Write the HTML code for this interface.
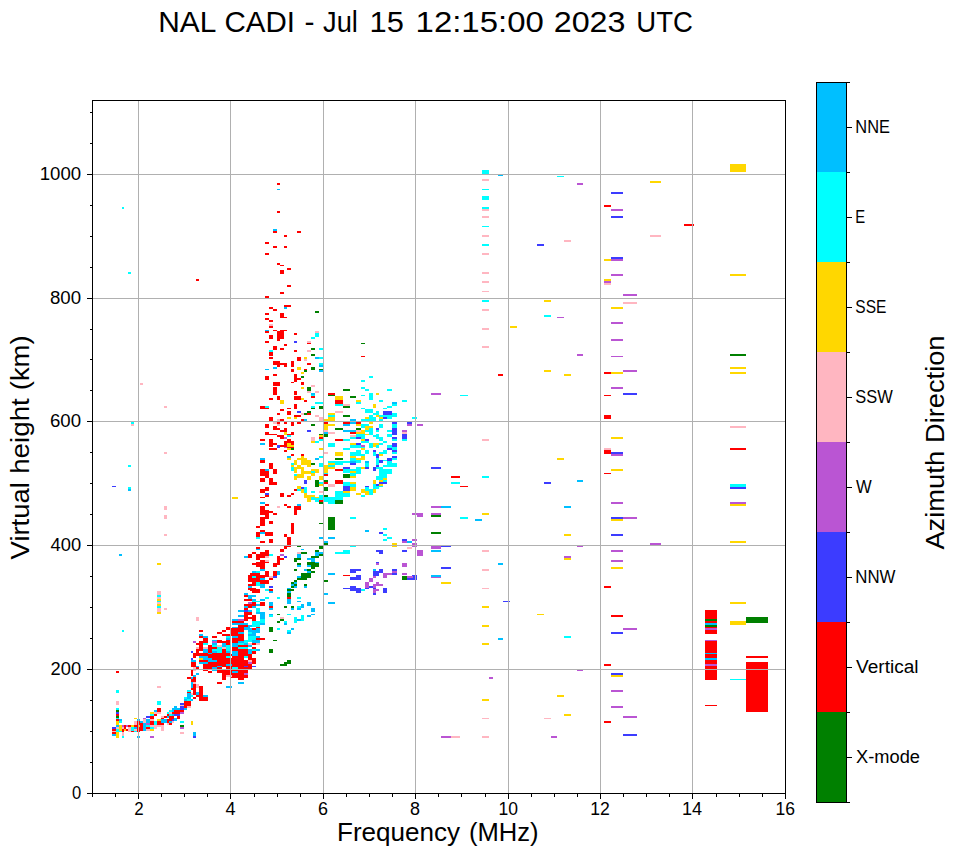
<!DOCTYPE html>
<html><head><meta charset="utf-8"><title>NAL CADI ionogram</title>
<style>
html,body{margin:0;padding:0;background:#fff;}
body{width:958px;height:857px;overflow:hidden;font-family:"Liberation Sans",sans-serif;}
svg{display:block;}
svg text{font-family:"Liberation Sans",sans-serif;fill:#000;}
.tk line{stroke:#000;stroke-width:1;shape-rendering:crispEdges;}
.gr line{stroke:#b0b0b0;stroke-width:1;shape-rendering:crispEdges;}
.d path{shape-rendering:crispEdges;}
.lb text{font-size:17.6px;}
</style></head><body>
<svg width="958" height="857" viewBox="0 0 958 857">
<rect x="0" y="0" width="958" height="857" fill="#fff"/>
<text x="158.2" y="31.6" font-size="30.2" textLength="58.1" lengthAdjust="spacingAndGlyphs">NAL</text><text x="224.5" y="31.6" font-size="30.2" textLength="70.5" lengthAdjust="spacingAndGlyphs">CADI</text><text x="304.5" y="31.6" font-size="30.2" textLength="10.0" lengthAdjust="spacingAndGlyphs">-</text><text x="323.0" y="31.6" font-size="30.2" textLength="34.9" lengthAdjust="spacingAndGlyphs">Jul</text><text x="369.5" y="31.6" font-size="30.2" textLength="34.3" lengthAdjust="spacingAndGlyphs">15</text><text x="415.6" y="31.6" font-size="30.2" textLength="128.2" lengthAdjust="spacingAndGlyphs">12:15:00</text><text x="553.7" y="31.6" font-size="30.2" textLength="71.8" lengthAdjust="spacingAndGlyphs">2023</text><text x="636.3" y="31.6" font-size="30.2" textLength="56.6" lengthAdjust="spacingAndGlyphs">UTC</text>
<g class="d">
<path fill="#ffd700" d="M730 164h16v7.5h-16zM650 181h11v2h-11z"/>
<path fill="#3c3cff" d="M611 192h12v2h-12z"/>
<path fill="#ff0000" d="M604 205h7v2h-7z"/>
<path fill="#ba55d3" d="M611 209h12v2h-12z"/>
<path fill="#3c3cff" d="M611 216h12v2h-12z"/>
<path fill="#ff0000" d="M684 224h10v2h-10z"/>
<path fill="#ffb6c1" d="M650 235h11v2h-11z"/>
<path fill="#3c3cff" d="M611 257h12v2h-12z"/>
<path fill="#ba55d3" d="M611 259h12v2h-12z"/>
<path fill="#ffd700" d="M604 259h7v1.5h-7z"/>
<path fill="#ba55d3" d="M611 274h12v2h-12z"/>
<path fill="#ffd700" d="M604 279h7v2h-7z"/>
<path fill="#ba55d3" d="M604 281h7v2h-7z"/>
<path fill="#ffb6c1" d="M604 283h7v2h-7z"/>
<path fill="#ba55d3" d="M623 294h14v2h-14z"/>
<path fill="#ffd700" d="M730 274h16v2h-16z"/>
<path fill="#ffb6c1" d="M623 302h14v2h-14z"/>
<path fill="#ffd700" d="M611 307h12v2h-12z"/>
<path fill="#ba55d3" d="M611 322h12v2h-12zM611 339h12v2h-12zM611 356h12v1h-12z"/>
<path fill="#ff0000" d="M604 372h7v2h-7z"/>
<path fill="#ffd700" d="M611 372h12v2h-12z"/>
<path fill="#ba55d3" d="M623 370h14v2h-14zM611 387h12v2h-12z"/>
<path fill="#ff0000" d="M604 395h7v1h-7z"/>
<path fill="#3c3cff" d="M623 393h14v2h-14z"/>
<path fill="#ff0000" d="M604 415h7v4h-7z"/>
<path fill="#ffd700" d="M611 437h12v2h-12z"/>
<path fill="#ffb6c1" d="M604 448h7v2h-7z"/>
<path fill="#ff0000" d="M604 450h7v4h-7z"/>
<path fill="#3c3cff" d="M611 452h12v2h-12z"/>
<path fill="#ba55d3" d="M611 454h12v2h-12z"/>
<path fill="#ffd700" d="M611 469h12v2h-12z"/>
<path fill="#ff0000" d="M604 473h7v1h-7z"/>
<path fill="#008000" d="M730 354h16v2h-16z"/>
<path fill="#ffd700" d="M730 367h16v2h-16zM730 372h16v2h-16z"/>
<path fill="#ffb6c1" d="M730 426h16v2h-16z"/>
<path fill="#ff0000" d="M730 448h16v2h-16z"/>
<path fill="#00ffff" d="M730 484h16v3h-16z"/>
<path fill="#3c3cff" d="M730 487h16v2h-16z"/>
<path fill="#ba55d3" d="M611 502h12v2h-12z"/>
<path fill="#3c3cff" d="M611 517h12v2h-12z"/>
<path fill="#ffd700" d="M611 519h12v2h-12z"/>
<path fill="#ba55d3" d="M623 517h14v2h-14z"/>
<path fill="#3c3cff" d="M611 534h12v2h-12z"/>
<path fill="#ba55d3" d="M650 543h11v2h-11zM611 550h12v2h-12zM611 560h12v2h-12z"/>
<path fill="#ffd700" d="M611 567h12v2h-12z"/>
<path fill="#ff0000" d="M604 586h7v2h-7zM611 615h12v2h-12z"/>
<path fill="#ba55d3" d="M623 628h14v2h-14z"/>
<path fill="#3c3cff" d="M611 632h12v2h-12z"/>
<path fill="#ff0000" d="M604 664h7v2h-7z"/>
<path fill="#ba55d3" d="M730 502h16v2h-16z"/>
<path fill="#ffd700" d="M730 504h16v2h-16zM730 541h16v2h-16z"/>
<path fill="#ff0000" d="M705 610h12v24h-12z"/>
<path fill="#008000" d="M705 619h12v2h-12z"/>
<path fill="#00bfff" d="M705 623h12v2h-12z"/>
<path fill="#008000" d="M705 625h12v2h-12z"/>
<path fill="#ba55d3" d="M705 628h12v2h-12z"/>
<path fill="#ff0000" d="M705 640h12v40h-12z"/>
<path fill="#ba55d3" d="M705 640h12v1h-12z"/>
<path fill="#00bfff" d="M705 653h12v1h-12zM705 658h12v2h-12z"/>
<path fill="#ba55d3" d="M705 664h12v2h-12z"/>
<path fill="#ff0000" d="M705 705h12v1h-12z"/>
<path fill="#ffd700" d="M730 602h16v2h-16zM730 621h16v4h-16z"/>
<path fill="#008000" d="M746 617h22v6h-22z"/>
<path fill="#ff0000" d="M746 656h22v2h-22zM746 662h22v50h-22z"/>
<path fill="#00ffff" d="M730 679h16v1h-16z"/>
<path fill="#3c3cff" d="M611 673h12v2h-12z"/>
<path fill="#ffd700" d="M611 675h12v2h-12z"/>
<path fill="#ba55d3" d="M611 690h12v2h-12zM611 706h12v2h-12zM623 716h14v2h-14z"/>
<path fill="#ff0000" d="M604 721h7v2h-7z"/>
<path fill="#3c3cff" d="M623 734h14v2h-14z"/>
<path fill="#00ffff" d="M482 170h7v4h-7z"/>
<path fill="#00bfff" d="M498 175h5v1h-5z"/>
<path fill="#ffb6c1" d="M482 179h7v2h-7z"/>
<path fill="#00ffff" d="M482 189h7v1h-7zM482 196h7v4h-7zM482 207h7v2h-7z"/>
<path fill="#ffb6c1" d="M482 209h7v2h-7zM482 216h7v2h-7z"/>
<path fill="#00ffff" d="M482 226h7v1h-7z"/>
<path fill="#ffb6c1" d="M482 235h7v2h-7z"/>
<path fill="#00ffff" d="M482 244h7v2h-7z"/>
<path fill="#ffb6c1" d="M482 253h7v2h-7zM482 272h7v1.5h-7zM482 281h7v2h-7zM482 291h7v1h-7z"/>
<path fill="#00ffff" d="M482 300h7v2h-7z"/>
<path fill="#ffb6c1" d="M482 309h7v2h-7zM482 328h7v2h-7z"/>
<path fill="#00ffff" d="M557 176h7v1h-7z"/>
<path fill="#ba55d3" d="M577 183h6v2h-6z"/>
<path fill="#3c3cff" d="M537 244h7v2h-7z"/>
<path fill="#ffb6c1" d="M564 240h7v2h-7z"/>
<path fill="#ffd700" d="M544 300h7v2h-7z"/>
<path fill="#00ffff" d="M544 315h7v2h-7z"/>
<path fill="#ba55d3" d="M557 317h7v1h-7z"/>
<path fill="#ffd700" d="M510 326h7v2h-7z"/>
<path fill="#ffb6c1" d="M482 346h7v2h-7z"/>
<path fill="#ba55d3" d="M577 354h6v2h-6z"/>
<path fill="#ff0000" d="M498 374h5v2h-5z"/>
<path fill="#ffd700" d="M544 370h7v2h-7zM564 374h7v2h-7z"/>
<path fill="#ba55d3" d="M431 393h10v2h-10z"/>
<path fill="#00ffff" d="M460 395h8v1h-8zM412 417h5v2h-5z"/>
<path fill="#ba55d3" d="M417 424h6v2h-6z"/>
<path fill="#ffb6c1" d="M482 439h7v2h-7z"/>
<path fill="#ffd700" d="M557 458h7v2h-7z"/>
<path fill="#3c3cff" d="M431 467h10v2h-10z"/>
<path fill="#ff0000" d="M451 476h9v2h-9z"/>
<path fill="#00ffff" d="M482 476h7v2h-7zM451 482h9v2h-9z"/>
<path fill="#ff0000" d="M460 486h8v1h-8z"/>
<path fill="#3c3cff" d="M544 482h7v2h-7z"/>
<path fill="#00bfff" d="M577 480h6v2h-6z"/>
<path fill="#ba55d3" d="M431 506h10v2h-10z"/>
<path fill="#00bfff" d="M441 506h10v2h-10z"/>
<path fill="#ba55d3" d="M412 513h5v2h-5zM417 513h6v4h-6zM431 513h10v2h-10z"/>
<path fill="#008000" d="M431 515h10v2h-10z"/>
<path fill="#00ffff" d="M460 517h8v2h-8z"/>
<path fill="#00bfff" d="M475 519h7v2h-7z"/>
<path fill="#ffd700" d="M482 513h7v2h-7z"/>
<path fill="#008000" d="M431 532h10v2h-10z"/>
<path fill="#ba55d3" d="M412 539h5v2h-5z"/>
<path fill="#00bfff" d="M410 541h2v2h-2z"/>
<path fill="#ba55d3" d="M412 543h5v4h-5z"/>
<path fill="#ffb6c1" d="M410 547h2v2h-2z"/>
<path fill="#ba55d3" d="M431 546h10v3h-10z"/>
<path fill="#3c3cff" d="M441 545.5h10v1.5h-10z"/>
<path fill="#00bfff" d="M431 550h10v2h-10z"/>
<path fill="#ba55d3" d="M417 550h6v6h-6z"/>
<path fill="#ffb6c1" d="M482 550h7v2h-7z"/>
<path fill="#00bfff" d="M498 563h5v2h-5z"/>
<path fill="#3c3cff" d="M441 567h10v2h-10z"/>
<path fill="#ffb6c1" d="M482 569h7v2h-7z"/>
<path fill="#00bfff" d="M431 575h10v2h-10z"/>
<path fill="#ba55d3" d="M431 576.5h10v1.5h-10z"/>
<path fill="#3c3cff" d="M412 575h5v5h-5z"/>
<path fill="#ba55d3" d="M410 576h2.5v2h-2.5z"/>
<path fill="#3c3cff" d="M410 578h7v2h-7z"/>
<path fill="#ffd700" d="M441 582h10v2h-10z"/>
<path fill="#ffb6c1" d="M482 588h7v1h-7z"/>
<path fill="#3c3cff" d="M503 601h7v1h-7z"/>
<path fill="#ffd700" d="M482 606h7v2h-7zM537 614h7v1h-7zM482 625h7v2h-7z"/>
<path fill="#00bfff" d="M498 638h5v2h-5z"/>
<path fill="#ffd700" d="M482 643h7v2h-7z"/>
<path fill="#00bfff" d="M564 506h7v2h-7z"/>
<path fill="#ffd700" d="M564 534h7v2h-7z"/>
<path fill="#ba55d3" d="M577 546h6v1h-6zM564 556h7v2h-7z"/>
<path fill="#ffd700" d="M564 558h7v2h-7z"/>
<path fill="#00ffff" d="M564 636h7v2h-7z"/>
<path fill="#ba55d3" d="M577 669.5h6v1.5h-6zM489 677h4v2h-4z"/>
<path fill="#ffd700" d="M482 699h7v2h-7zM557 695h7v2h-7z"/>
<path fill="#ffb6c1" d="M482 718h7v1h-7zM544 718h7v1h-7z"/>
<path fill="#ffd700" d="M564 714h7v2h-7z"/>
<path fill="#ba55d3" d="M441 736h10v2h-10z"/>
<path fill="#ffb6c1" d="M451 736h9v2h-9zM482 736h7v2h-7z"/>
<path fill="#ba55d3" d="M551 736h6v2h-6z"/>
<path fill="#00ffff" d="M122 207h2v2h-2zM128 272h3v2h-3z"/>
<path fill="#ff0000" d="M196 279h3v2h-3z"/>
<path fill="#ffb6c1" d="M140 383h3v2h-3zM164 406h3v2h-3z"/>
<path fill="#00ffff" d="M131 422h3v2h-3z"/>
<path fill="#ffb6c1" d="M131 424h3v2h-3zM164 452h3v2h-3z"/>
<path fill="#00ffff" d="M128 465h3v2h-3z"/>
<path fill="#3c3cff" d="M112 486h4v1h-4z"/>
<path fill="#00ffff" d="M128 487h3v2h-3z"/>
<path fill="#00bfff" d="M128 489h3v2h-3z"/>
<path fill="#ffd700" d="M232 497h6v2h-6z"/>
<path fill="#ffb6c1" d="M164 506h3v4h-3zM164 515h3v4h-3zM164 534h3v2h-3z"/>
<path fill="#00bfff" d="M119 554h3v2h-3z"/>
<path fill="#ffd700" d="M157 563h4v2h-4z"/>
<path fill="#00ffff" d="M122 630h2v2h-2z"/>
<path fill="#ffb6c1" d="M157 591h4v4h-4z"/>
<path fill="#00ffff" d="M157 595h4v2h-4z"/>
<path fill="#ffb6c1" d="M157 597h4v2h-4z"/>
<path fill="#ffd700" d="M157 599h4v2h-4z"/>
<path fill="#00ffff" d="M157 601h4v1h-4z"/>
<path fill="#ffb6c1" d="M157 602h4v2h-4z"/>
<path fill="#ffd700" d="M157 604h4v2h-4z"/>
<path fill="#00ffff" d="M157 606h4v2h-4z"/>
<path fill="#ffb6c1" d="M157 608h4v4h-4z"/>
<path fill="#ffd700" d="M157 612h4v2h-4z"/>
<path fill="#ffb6c1" d="M164 608h3v2h-3zM196 617h3v4h-3z"/>
<path fill="#ff0000" d="M277 183h3v2h-3z"/>
<path fill="#00bfff" d="M277 189h3v1h-3z"/>
<path fill="#ff0000" d="M277 211h3v2h-3z"/>
<path fill="#00bfff" d="M273 229h4v2h-4z"/>
<path fill="#ff0000" d="M273 231h4v2h-4zM297 231h4v2h-4zM284 235h3v2h-3zM265 242h4v2h-4zM273 246h4v2h-4zM284 246h3v2h-3zM265 253h4v2h-4zM277 263h3v2h-3zM280 265h4v1h-4zM287 268h4v2h-4zM280 270h4v4h-4zM287 285h4v2h-4zM287 285h4v2h-4zM280 292h4v2h-4zM265 296h4v2h-4zM284 305h7v2h-7z"/>
<path fill="#00bfff" d="M284 307h3v2h-3z"/>
<path fill="#ff0000" d="M269 307h4v2h-4zM273 309h4v2h-4z"/>
<path fill="#008000" d="M315 311h4v2h-4z"/>
<path fill="#ff0000" d="M265 313h4v2h-4zM280 313h4v5h-4zM284 317h3v1h-3zM265 318h4v2h-4zM269 320h4v2h-4z"/>
<path fill="#ffb6c1" d="M269 324h4v2h-4z"/>
<path fill="#ff0000" d="M269 326h4v1.5h-4z"/>
<path fill="#00bfff" d="M265 330h4v1h-4z"/>
<path fill="#ff0000" d="M265 331h4v2h-4zM273 330h4v1h-4zM280 330h7v1h-7zM277 331h7v8h-7zM277 339h3v2h-3zM269 335h4v4h-4zM294 333h3v1.5h-3z"/>
<path fill="#ffb6c1" d="M315 331h4v2h-4z"/>
<path fill="#00ffff" d="M315 333h4v4h-4zM311 337h4v2h-4z"/>
<path fill="#ff0000" d="M265 341h4v1.5h-4z"/>
<path fill="#3c3cff" d="M294 341h3v1.5h-3z"/>
<path fill="#ffb6c1" d="M307 341h4v1.5h-4z"/>
<path fill="#ff0000" d="M307 342.5h4v1h-4zM284 344h3v2h-3zM273 346h4v3.5h-4zM280 348h4v1.5h-4z"/>
<path fill="#008000" d="M311 348h4v1.5h-4z"/>
<path fill="#00ffff" d="M319 348h4v1.5h-4zM269 349.5h4v2h-4z"/>
<path fill="#ff0000" d="M269 351.5h4v4h-4zM294 349.5h3v2h-3z"/>
<path fill="#ffb6c1" d="M307 349.5h4v2h-4z"/>
<path fill="#008000" d="M311 354h4v2h-4z"/>
<path fill="#ff0000" d="M269 356.5h4v2h-4zM297 356.5h4v4.5h-4z"/>
<path fill="#ffd700" d="M304 356.5h3v2h-3z"/>
<path fill="#ffb6c1" d="M304 358.5h3v2h-3z"/>
<path fill="#00bfff" d="M315 356.5h4v2h-4z"/>
<path fill="#00ffff" d="M319 356.5h4v2h-4z"/>
<path fill="#ff0000" d="M273 361h7v3.5h-7zM277 364.5h3v2h-3zM280 363h7v1.5h-7zM284 364.5h3v2h-3zM291 361h3v5.5h-3zM307 363h4v1.5h-4z"/>
<path fill="#00ffff" d="M319 363h4v1.5h-4z"/>
<path fill="#00bfff" d="M319 364.5h4v2h-4zM265 369h4v1h-4zM273 366.5h4v2h-4z"/>
<path fill="#ff0000" d="M291 368.5h3v3h-3z"/>
<path fill="#ffd700" d="M297 366.5h4v3.5h-4z"/>
<path fill="#008000" d="M311 366.5h4v3.5h-4zM319 369h4v1h-4z"/>
<path fill="#00bfff" d="M319 370h4v1.5h-4z"/>
<path fill="#ff0000" d="M304 369h3v1h-3z"/>
<path fill="#008000" d="M304 370h3v1.5h-3z"/>
<path fill="#ffd700" d="M301 371.5h3v2h-3z"/>
<path fill="#ff0000" d="M273 373.5h4v2h-4zM265 375.5h4v4h-4zM294 373.5h3v8h-3zM297 377.5h4v2h-4z"/>
<path fill="#008000" d="M301 375.5h3v2h-3z"/>
<path fill="#ff0000" d="M291 381.5h3v1h-3zM273 381.5h7v4h-7zM301 381.5h3v3h-3z"/>
<path fill="#ffb6c1" d="M311 384.5h4v2h-4z"/>
<path fill="#ff0000" d="M273 386.5h4v8h-4z"/>
<path fill="#ffd700" d="M301 386.5h3v2h-3z"/>
<path fill="#008000" d="M307 386.5h4v4.5h-4z"/>
<path fill="#ff0000" d="M294 391h3v3.5h-3z"/>
<path fill="#ffb6c1" d="M307 391h4v1.5h-4zM315 391h4v1.5h-4z"/>
<path fill="#00bfff" d="M311 392.5h4v3h-4z"/>
<path fill="#ff0000" d="M311 395.5h4v2h-4z"/>
<path fill="#008000" d="M343 389h7v2h-7z"/>
<path fill="#ff0000" d="M328 392.5h7v2h-7z"/>
<path fill="#008000" d="M328 394.5h7v1h-7z"/>
<path fill="#ffd700" d="M335 395.5h8v4.5h-8z"/>
<path fill="#008000" d="M350 395.5h6v2h-6z"/>
<path fill="#ff0000" d="M269 397.5h4v2.5h-4zM277 395.5h3v4.5h-3zM294 395.5h7v4.5h-7z"/>
<path fill="#ffd700" d="M301 397.5h3v2.5h-3z"/>
<path fill="#ff0000" d="M273 390h4v4.5h-4zM294 391h3v3.5h-3z"/>
<path fill="#008000" d="M307 390h4v1h-4z"/>
<path fill="#ffb6c1" d="M307 391h4v2h-4zM315 391h4v2h-4z"/>
<path fill="#00bfff" d="M311 393h4v2h-4z"/>
<path fill="#00ffff" d="M311 395h4v1h-4z"/>
<path fill="#ff0000" d="M311 396h4v2h-4zM277 396h3v4h-3zM269 398h4v2h-4zM294 396h7v4h-7z"/>
<path fill="#ffd700" d="M301 398h3v2h-3z"/>
<path fill="#ff0000" d="M304 400h3v1.5h-3z"/>
<path fill="#ffd700" d="M280 400h4v3.5h-4z"/>
<path fill="#00ffff" d="M315 402h8v2h-8z"/>
<path fill="#ff0000" d="M260 406h5v3h-5zM265 408h4v1h-4z"/>
<path fill="#00ffff" d="M265 406h4v2h-4z"/>
<path fill="#ff0000" d="M294 404h3v5h-3zM287 408h4v1h-4z"/>
<path fill="#00ffff" d="M311 406h4v2h-4z"/>
<path fill="#008000" d="M311 408h4v1h-4zM319 406h4v3h-4z"/>
<path fill="#ff0000" d="M280 409h4v2h-4zM287 411h4v4h-4z"/>
<path fill="#3c3cff" d="M297 411h4v2h-4z"/>
<path fill="#008000" d="M307 411h4v2h-4z"/>
<path fill="#ff0000" d="M277 413h3v2h-3z"/>
<path fill="#ffb6c1" d="M301 413h3v2h-3z"/>
<path fill="#008000" d="M304 413h3v2h-3z"/>
<path fill="#ff0000" d="M307 413h4v2h-4zM294 415h7v2h-7z"/>
<path fill="#ffb6c1" d="M315 415h4v2h-4z"/>
<path fill="#ffd700" d="M287 417h4v2h-4zM294 417h3v2h-3z"/>
<path fill="#ffb6c1" d="M319 417h4v4h-4z"/>
<path fill="#ff0000" d="M269 417h4v4h-4z"/>
<path fill="#ffb6c1" d="M277 419h3v2h-3z"/>
<path fill="#ff0000" d="M280 419h4v2h-4zM301 419h3v2h-3z"/>
<path fill="#00bfff" d="M304 419h3v2h-3z"/>
<path fill="#ffb6c1" d="M273 422h4v2h-4z"/>
<path fill="#ff0000" d="M277 422h3v2h-3z"/>
<path fill="#ffb6c1" d="M277 424h3v1.5h-3z"/>
<path fill="#ff0000" d="M284 422h3v2h-3zM291 422h3v3.5h-3zM297 422h4v2h-4z"/>
<path fill="#008000" d="M311 424h4v2h-4z"/>
<path fill="#ff0000" d="M265 424h4v3.5h-4zM273 426h4v3.5h-4zM277 428h3v1.5h-3zM284 428h3v3.5h-3zM280 429.5h4v2h-4z"/>
<path fill="#3c3cff" d="M307 430h4v2h-4z"/>
<path fill="#ff0000" d="M265 432h4v3h-4zM269 433.5h8v1.5h-8z"/>
<path fill="#ffd700" d="M284 432h3v3h-3z"/>
<path fill="#ff0000" d="M291 432h3v3h-3zM287 433.5h4v1.5h-4zM277 435h7v2h-7z"/>
<path fill="#00ffff" d="M287 435h4v2h-4z"/>
<path fill="#ff0000" d="M280 437h4v2h-4z"/>
<path fill="#ba55d3" d="M284 437h3v2h-3z"/>
<path fill="#008000" d="M319 433.5h4v1.5h-4z"/>
<path fill="#ffd700" d="M319 435h4v2h-4z"/>
<path fill="#ff0000" d="M319 437h4v2h-4z"/>
<path fill="#00ffff" d="M319 439h4v1.5h-4z"/>
<path fill="#ffb6c1" d="M311 437h4v3.5h-4z"/>
<path fill="#ffd700" d="M311 440.5h4v2h-4z"/>
<path fill="#00ffff" d="M315 440.5h4v2h-4z"/>
<path fill="#ff0000" d="M260 439h5v2h-5z"/>
<path fill="#00bfff" d="M260 442.5h5v2h-5z"/>
<path fill="#ff0000" d="M269 439h4v7.5h-4zM273 442.5h4v2h-4zM287 439h4v2h-4zM284 441h10v1.5h-10zM284 442.5h3v4h-3z"/>
<path fill="#ffd700" d="M287 442.5h4v4h-4z"/>
<path fill="#ff0000" d="M291 442.5h3v2h-3z"/>
<path fill="#ffd700" d="M291 444.5h3v2h-3z"/>
<path fill="#3c3cff" d="M277 444.5h3v3.5h-3z"/>
<path fill="#ff0000" d="M280 444.5h4v2h-4z"/>
<path fill="#ba55d3" d="M284 446.5h3v1.5h-3z"/>
<path fill="#ff0000" d="M287 446.5h7v1.5h-7zM269 448h8v2h-8z"/>
<path fill="#ffd700" d="M287 448h4v2h-4z"/>
<path fill="#008000" d="M291 448h3v2h-3z"/>
<path fill="#ffd700" d="M319 448h4v2h-4z"/>
<path fill="#ff0000" d="M284 450h3v2h-3zM291 454h3v1.5h-3zM301 454h3v1.5h-3z"/>
<path fill="#00bfff" d="M287 455.5h4v2h-4z"/>
<path fill="#ffd700" d="M287 457.5h4v2h-4zM301 455.5h3v2h-3zM297 457.5h10v2h-10z"/>
<path fill="#00bfff" d="M260 457.5h5v2h-5z"/>
<path fill="#ff0000" d="M260 459.5h5v2.5h-5z"/>
<path fill="#00ffff" d="M319 455.5h4v2h-4z"/>
<path fill="#00bfff" d="M315 457.5h4v2h-4z"/>
<path fill="#ffd700" d="M297 458h10v2h-10zM301 460h6v5h-6zM307 460h4v7h-4zM294 460h3v5h-3z"/>
<path fill="#00ffff" d="M291 463h3v2h-3z"/>
<path fill="#008000" d="M311 463h4v2h-4z"/>
<path fill="#00ffff" d="M319 463h4v4h-4z"/>
<path fill="#ffd700" d="M291 465h3v2h-3zM297 465h4v2h-4z"/>
<path fill="#00ffff" d="M291 467h3v4h-3z"/>
<path fill="#ffd700" d="M294 467h10v2h-10zM294 469h3v4h-3zM301 469h3v2h-3zM301 471h10v3h-10zM311 469h8v2h-8z"/>
<path fill="#00ffff" d="M311 471h4v2h-4z"/>
<path fill="#ffd700" d="M315 471h4v2h-4zM311 473h4v3h-4zM297 474h7v4h-7z"/>
<path fill="#00ffff" d="M294 474h3v2h-3z"/>
<path fill="#ffd700" d="M294 476h3v4h-3zM307 476h4v4h-4zM319 476h4v4h-4z"/>
<path fill="#3c3cff" d="M304 480h3v4h-3z"/>
<path fill="#008000" d="M315 480h4v7h-4z"/>
<path fill="#00ffff" d="M319 482h4v2h-4z"/>
<path fill="#ffd700" d="M319 484h4v2h-4z"/>
<path fill="#00bfff" d="M315 458h4v2h-4z"/>
<path fill="#00ffff" d="M319 456h4v2h-4z"/>
<path fill="#ff0000" d="M260 460h5v3h-5zM269 463h4v5.5h-4z"/>
<path fill="#00bfff" d="M265 468.5h4v2h-4z"/>
<path fill="#ff0000" d="M260 468.5h5v7.5h-5zM265 470.5h4v7.5h-4zM273 468.5h4v5.5h-4zM260 478h5v3.5h-5zM269 478h4v7h-4zM273 481.5h4v3.5h-4zM265 487h4v4h-4zM260 489h5v3.5h-5z"/>
<path fill="#3c3cff" d="M265 492.5h4v2h-4z"/>
<path fill="#ff0000" d="M265 494.5h4v2h-4zM260 496.5h5v1.5h-5zM280 492.5h4v4h-4zM287 494.5h4v2h-4zM291 492.5h3v2h-3z"/>
<path fill="#00bfff" d="M260 502h5v2h-5z"/>
<path fill="#ff0000" d="M265 504h4v1.5h-4z"/>
<path fill="#ffb6c1" d="M277 505.5h3v2h-3z"/>
<path fill="#ff0000" d="M284 504h3v1.5h-3zM287 505.5h4v2h-4z"/>
<path fill="#00bfff" d="M297 504h4v1.5h-4z"/>
<path fill="#ff0000" d="M294 505.5h7v4h-7zM294 509.5h3v5.5h-3zM260 505.5h5v9.5h-5zM265 509.5h4v9h-4zM269 511h4v1.5h-4zM273 512.5h4v2.5h-4zM260 517h5v9h-5zM269 520.5h4v3.5h-4zM256 526h4v2h-4z"/>
<path fill="#008000" d="M319 522.5h4v1h-4z"/>
<path fill="#ffd700" d="M297 486h4v3h-4z"/>
<path fill="#3c3cff" d="M301 487h3v2h-3z"/>
<path fill="#00ffff" d="M304 487h3v5.5h-3z"/>
<path fill="#ff0000" d="M294 489h3v2h-3z"/>
<path fill="#00ffff" d="M297 489h4v2h-4z"/>
<path fill="#ffd700" d="M301 489h3v3.5h-3z"/>
<path fill="#00ffff" d="M311 491h4v1.5h-4z"/>
<path fill="#ffb6c1" d="M319 491h4v1.5h-4z"/>
<path fill="#ffd700" d="M304 492.5h3v5.5h-3zM307 494.5h8v2h-8zM307 496.5h4v5.5h-4z"/>
<path fill="#00ffff" d="M311 496.5h4v3.5h-4z"/>
<path fill="#ffd700" d="M315 496.5h4v1.5h-4z"/>
<path fill="#00ffff" d="M315 498h4v4h-4zM319 494.5h4v5.5h-4z"/>
<path fill="#ff0000" d="M319 500h4v2h-4z"/>
<path fill="#008000" d="M319 502h4v2h-4z"/>
<path fill="#00ffff" d="M361 380h4v2h-4zM361 387h4v2h-4zM365 389h4v2h-4z"/>
<path fill="#008000" d="M343 389h7v2h-7z"/>
<path fill="#00ffff" d="M387 389h5v2h-5z"/>
<path fill="#ff0000" d="M328 393h7v2h-7z"/>
<path fill="#008000" d="M328 395h7v1h-7z"/>
<path fill="#ffd700" d="M376 393h3v2h-3z"/>
<path fill="#00ffff" d="M369 393h4v7h-4zM361 395h4v1h-4z"/>
<path fill="#ffd700" d="M335 396h8v4h-8z"/>
<path fill="#008000" d="M350 396h6v2h-6z"/>
<path fill="#ff0000" d="M335 400h8v4h-8z"/>
<path fill="#ffd700" d="M356 400h5v2h-5z"/>
<path fill="#00ffff" d="M356 402h5v2h-5zM379 400h4v2h-4z"/>
<path fill="#00bfff" d="M392 402h5v2h-5z"/>
<path fill="#00ffff" d="M335 404h8v2h-8z"/>
<path fill="#ffb6c1" d="M343 404h7v2h-7z"/>
<path fill="#00ffff" d="M392 404h5v2h-5z"/>
<path fill="#008000" d="M343 406h7v2h-7z"/>
<path fill="#ffd700" d="M373 404h3v4h-3z"/>
<path fill="#00ffff" d="M387 406h5v2h-5zM361 408h4v1h-4zM383 408h4v1h-4zM365 409h8v4h-8z"/>
<path fill="#ffb6c1" d="M335 411h8v2h-8z"/>
<path fill="#00ffff" d="M376 411h3v4h-3z"/>
<path fill="#3c3cff" d="M383 411h9v4h-9z"/>
<path fill="#00ffff" d="M373 413h3v2h-3z"/>
<path fill="#ffd700" d="M328 413h7v2h-7z"/>
<path fill="#00ffff" d="M328 415h7v2h-7z"/>
<path fill="#008000" d="M343 415h7v2h-7z"/>
<path fill="#00ffff" d="M392 413h5v4h-5zM369 415h4v2h-4z"/>
<path fill="#ffd700" d="M376 415h3v2h-3z"/>
<path fill="#00ffff" d="M379 415h13v2h-13z"/>
<path fill="#ffd700" d="M365 417h4v2h-4z"/>
<path fill="#00ffff" d="M369 417h7v4h-7z"/>
<path fill="#ffd700" d="M379 417h4v2h-4z"/>
<path fill="#3c3cff" d="M383 417h4v2h-4z"/>
<path fill="#00ffff" d="M387 417h5v2h-5z"/>
<path fill="#ffd700" d="M328 417h7v4h-7zM324 419h4v2h-4z"/>
<path fill="#00bfff" d="M350 419h6v2h-6z"/>
<path fill="#00ffff" d="M361 419h8v2h-8zM379 419h4v2h-4z"/>
<path fill="#ff0000" d="M324 422h4v2h-4z"/>
<path fill="#ffd700" d="M324 424h4v6h-4zM328 424h7v2h-7z"/>
<path fill="#ff0000" d="M343 422h7v2h-7z"/>
<path fill="#00bfff" d="M350 422h6v2h-6z"/>
<path fill="#ff0000" d="M356 422h5v2h-5z"/>
<path fill="#00bfff" d="M343 424h7v2h-7z"/>
<path fill="#ffd700" d="M356 424h5v2h-5zM369 422h4v2h-4z"/>
<path fill="#3c3cff" d="M392 422h5v2h-5z"/>
<path fill="#00ffff" d="M361 424h8v2h-8zM361 426h4v2h-4zM379 424h4v4h-4zM392 424h5v4h-5z"/>
<path fill="#ffd700" d="M365 426h8v2h-8zM365 428h4v2h-4z"/>
<path fill="#00ffff" d="M369 428h4v6.5h-4z"/>
<path fill="#3c3cff" d="M376 428h3v2h-3z"/>
<path fill="#008000" d="M335 428h8v2h-8zM356 428h5v2h-5z"/>
<path fill="#3c3cff" d="M392 428h5v7h-5z"/>
<path fill="#ffb6c1" d="M324 430h4v2h-4z"/>
<path fill="#00bfff" d="M343 430h13v2h-13z"/>
<path fill="#ffb6c1" d="M356 430h5v2h-5z"/>
<path fill="#ffd700" d="M361 430h4v4h-4z"/>
<path fill="#00ffff" d="M365 430h4v2h-4zM376 430h3v2h-3zM387 430h5v2h-5z"/>
<path fill="#00bfff" d="M324 432h4v2h-4z"/>
<path fill="#ffb6c1" d="M328 432h7v2h-7z"/>
<path fill="#ff0000" d="M350 432h6v2h-6z"/>
<path fill="#ffd700" d="M356 432h5v2h-5z"/>
<path fill="#008000" d="M324 434h4v3h-4z"/>
<path fill="#ffd700" d="M365 434h4v1h-4z"/>
<path fill="#ffb6c1" d="M350 435h6v2h-6z"/>
<path fill="#00ffff" d="M356 434h9v3h-9zM373 435h3v2h-3zM376 434h3v5h-3zM387 434h5v3h-5zM350 437h6v2h-6z"/>
<path fill="#3c3cff" d="M356 437h5v2h-5z"/>
<path fill="#00ffff" d="M361 437h4v2h-4zM379 437h4v4h-4z"/>
<path fill="#3c3cff" d="M392 437h5v2h-5z"/>
<path fill="#ff0000" d="M335 439h8v2h-8z"/>
<path fill="#00ffff" d="M343 439h7v2h-7z"/>
<path fill="#ffd700" d="M361 439h4v2h-4z"/>
<path fill="#3c3cff" d="M365 439h4v2h-4z"/>
<path fill="#00ffff" d="M392 439h5v2h-5zM361 441h8v2h-8zM383 441h4v2h-4zM328 443h7v4h-7z"/>
<path fill="#ffd700" d="M350 443h6v2h-6z"/>
<path fill="#3c3cff" d="M356 443h5v2h-5z"/>
<path fill="#00ffff" d="M369 443h4v5h-4z"/>
<path fill="#ffd700" d="M373 443h6v2h-6zM373 445h3v2h-3z"/>
<path fill="#00ffff" d="M379 443h4v2h-4zM376 445h3v3h-3z"/>
<path fill="#3c3cff" d="M392 443h5v4h-5z"/>
<path fill="#00ffff" d="M350 445h11v3h-11z"/>
<path fill="#ba55d3" d="M361 445h4v2h-4z"/>
<path fill="#00ffff" d="M361 447h4v1h-4zM387 445h5v3h-5zM343 448h7v2h-7z"/>
<path fill="#ffd700" d="M361 448h4v2h-4z"/>
<path fill="#3c3cff" d="M387 448h5v2h-5z"/>
<path fill="#00ffff" d="M392 447h5v3h-5zM356 450h5v2h-5zM365 450h4v2h-4z"/>
<path fill="#3c3cff" d="M373 450h3v2h-3z"/>
<path fill="#00ffff" d="M383 450h4v2h-4z"/>
<path fill="#3c3cff" d="M392 450h5v2h-5z"/>
<path fill="#ffb6c1" d="M324 452h4v2h-4z"/>
<path fill="#ffd700" d="M335 452h8v4h-8z"/>
<path fill="#00ffff" d="M356 450h5v2h-5zM365 450h4v4h-4z"/>
<path fill="#3c3cff" d="M373 450h3v2h-3z"/>
<path fill="#00ffff" d="M373 452h3v4h-3zM383 450h4v4h-4zM379 452h4v2h-4z"/>
<path fill="#3c3cff" d="M392 450h5v2h-5z"/>
<path fill="#00ffff" d="M392 452h5v2h-5z"/>
<path fill="#3c3cff" d="M376 454h3v4h-3z"/>
<path fill="#ffd700" d="M379 454h4v2h-4z"/>
<path fill="#00ffff" d="M350 452h11v4h-11zM361 454h4v2h-4z"/>
<path fill="#ffd700" d="M350 456h6v2h-6zM361 456h4v4h-4zM356 458h5v2h-5z"/>
<path fill="#3c3cff" d="M392 456h5v2h-5z"/>
<path fill="#008000" d="M335 458h8v2h-8z"/>
<path fill="#00ffff" d="M350 458h6v3h-6zM356 460h5v2.5h-5z"/>
<path fill="#3c3cff" d="M387 458h5v3h-5z"/>
<path fill="#00ffff" d="M392 458h5v2h-5zM376 458h3v7h-3zM383 460h4v1h-4z"/>
<path fill="#3c3cff" d="M379 460h4v2.5h-4z"/>
<path fill="#00ffff" d="M328 461h22v1.5h-22z"/>
<path fill="#00bfff" d="M350 461h6v1.5h-6zM365 461h4v1.5h-4z"/>
<path fill="#00ffff" d="M387 461h5v5.5h-5zM392 462.5h5v4h-5zM383 465h4v1.5h-4z"/>
<path fill="#ffd700" d="M328 462.5h7v2.5h-7z"/>
<path fill="#00ffff" d="M335 462.5h8v2.5h-8z"/>
<path fill="#3c3cff" d="M350 462.5h6v2.5h-6z"/>
<path fill="#00ffff" d="M365 462.5h4v4h-4z"/>
<path fill="#ffd700" d="M324 465h4v8h-4z"/>
<path fill="#00ffff" d="M328 465h7v1.5h-7z"/>
<path fill="#3c3cff" d="M376 465h3v1.5h-3z"/>
<path fill="#ffd700" d="M328 466.5h7v2.5h-7z"/>
<path fill="#3c3cff" d="M343 466.5h7v2.5h-7z"/>
<path fill="#00ffff" d="M356 466.5h5v7h-5z"/>
<path fill="#ffd700" d="M361 466.5h4v2.5h-4z"/>
<path fill="#3c3cff" d="M365 466.5h4v2.5h-4zM373 466.5h3v4h-3z"/>
<path fill="#00ffff" d="M376 466.5h7v2.5h-7z"/>
<path fill="#ff0000" d="M335 469h8v2h-8z"/>
<path fill="#00ffff" d="M343 469h7v4h-7zM350 469h6v2h-6z"/>
<path fill="#ffd700" d="M350 471h6v2h-6z"/>
<path fill="#00ffff" d="M379 469h13v4.5h-13zM379 473h8v2.5h-8zM376 475.5h11v4.5h-11z"/>
<path fill="#ffd700" d="M383 478h4v2h-4z"/>
<path fill="#00ffff" d="M324 473h4v1h-4z"/>
<path fill="#ff0000" d="M324 474h4v2h-4z"/>
<path fill="#008000" d="M343 474h7v4h-7z"/>
<path fill="#00ffff" d="M350 473h6v3h-6z"/>
<path fill="#ffd700" d="M350 476h6v2h-6z"/>
<path fill="#008000" d="M324 480h4v2h-4z"/>
<path fill="#ff0000" d="M324 482h4v1.5h-4zM335 480h8v3.5h-8z"/>
<path fill="#00ffff" d="M343 482h7v4h-7z"/>
<path fill="#ffd700" d="M350 482h6v1.5h-6z"/>
<path fill="#00ffff" d="M350 483.5h6v3.5h-6z"/>
<path fill="#ffd700" d="M373 480h3v3.5h-3zM379 480h4v2h-4z"/>
<path fill="#00ffff" d="M383 480h4v2h-4z"/>
<path fill="#3c3cff" d="M379 482h8v1.5h-8zM376 483.5h3v2.5h-3z"/>
<path fill="#ffd700" d="M379 483.5h4v2.5h-4z"/>
<path fill="#00ffff" d="M379 486h4v1h-4zM373 483.5h3v5.5h-3zM376 486h3v3h-3z"/>
<path fill="#ffb6c1" d="M328 483.5h7v3.5h-7z"/>
<path fill="#3c3cff" d="M343 486h7v5h-7z"/>
<path fill="#ffd700" d="M350 487h6v4h-6z"/>
<path fill="#3c3cff" d="M365 486h4v1h-4z"/>
<path fill="#00ffff" d="M365 487h4v4h-4z"/>
<path fill="#008000" d="M324 487h4v4h-4z"/>
<path fill="#ffd700" d="M361 489h4v4h-4z"/>
<path fill="#00ffff" d="M369 489h4v6h-4z"/>
<path fill="#ffd700" d="M373 489h3v4h-3zM365 491h4v4h-4zM343 491h7v2h-7z"/>
<path fill="#00ffff" d="M335 491h8v5.5h-8zM343 493h7v3.5h-7z"/>
<path fill="#ffd700" d="M356 493h5v2h-5z"/>
<path fill="#00ffff" d="M361 495h4v1.5h-4z"/>
<path fill="#008000" d="M324 495h4v1.5h-4z"/>
<path fill="#00ffff" d="M324 496.5h19v5.5h-19zM328 502h7v2h-7z"/>
<path fill="#008000" d="M335 500h8v4h-8zM328 517h7v3h-7z"/>
<path fill="#00ffff" d="M350 517h6v2h-6zM402 400h5v2h-5z"/>
<path fill="#3c3cff" d="M407 422h5v2h-5z"/>
<path fill="#ba55d3" d="M407 424h5v2h-5zM402 430h5v2h-5z"/>
<path fill="#ffb6c1" d="M402 432h5v2h-5z"/>
<path fill="#3c3cff" d="M402 434h5v5h-5z"/>
<path fill="#00ffff" d="M402 439h5v2h-5z"/>
<path fill="#ff0000" d="M260 530h5v2h-5z"/>
<path fill="#00bfff" d="M260 532h5v2h-5z"/>
<path fill="#ff0000" d="M256 532h4v5h-4zM265 532h8v4h-8z"/>
<path fill="#00ffff" d="M256 537h4v2h-4z"/>
<path fill="#ff0000" d="M269 539h4v4h-4zM260 541h5v2h-5zM284 534h3v3h-3zM287 537h4v8h-4zM291 523h3v11h-3z"/>
<path fill="#00bfff" d="M319 537h4v2h-4z"/>
<path fill="#ff0000" d="M256 547h4v2h-4z"/>
<path fill="#00bfff" d="M256 549h4v1h-4z"/>
<path fill="#ff0000" d="M284 546h3v3h-3zM287 546h4v1h-4zM280 549h4v2.5h-4z"/>
<path fill="#008000" d="M297 546h4v1h-4z"/>
<path fill="#00bfff" d="M301 549h3v1h-3z"/>
<path fill="#008000" d="M319 546h4v3h-4zM315 550h4v1.5h-4z"/>
<path fill="#ffb6c1" d="M297 551.5h4v2.5h-4z"/>
<path fill="#008000" d="M301 551.5h6v2.5h-6z"/>
<path fill="#00bfff" d="M315 551.5h8v2.5h-8zM315 554h4v2h-4z"/>
<path fill="#008000" d="M319 554h4v2h-4z"/>
<path fill="#ff0000" d="M252 551.5h4v2.5h-4zM265 550h4v6h-4zM260 551.5h5v4.5h-5z"/>
<path fill="#00ffff" d="M269 554h4v2h-4z"/>
<path fill="#ff0000" d="M250 554h2v4h-2zM256 554h4v5.5h-4zM260 556h5v2h-5z"/>
<path fill="#ffb6c1" d="M265 556h4v2h-4z"/>
<path fill="#ba55d3" d="M280 554h4v2h-4z"/>
<path fill="#3c3cff" d="M284 556h3v2h-3z"/>
<path fill="#ff0000" d="M277 556h3v8.5h-3zM280 558h4v2h-4z"/>
<path fill="#00bfff" d="M297 554h4v4h-4z"/>
<path fill="#008000" d="M311 556h8v2h-8zM294 558h7v2h-7zM294 560h3v2h-3z"/>
<path fill="#00bfff" d="M307 558h8v2h-8zM311 560h4v2h-4z"/>
<path fill="#ff0000" d="M260 560h5v8.5h-5zM256 562h9v5h-9zM252 563h4v1.5h-4z"/>
<path fill="#ffb6c1" d="M265 560h4v2h-4z"/>
<path fill="#ff0000" d="M265 562h4v1h-4zM273 563h4v4h-4z"/>
<path fill="#008000" d="M297 563h4v1.5h-4z"/>
<path fill="#00bfff" d="M297 564.5h4v2.5h-4z"/>
<path fill="#008000" d="M307 562h12v2.5h-12z"/>
<path fill="#00bfff" d="M315 562h4v1h-4zM307 564.5h4v2.5h-4z"/>
<path fill="#008000" d="M311 564.5h8v2.5h-8zM311 567h4v2h-4z"/>
<path fill="#00bfff" d="M260 569h5v2h-5z"/>
<path fill="#008000" d="M294 569h3v2h-3z"/>
<path fill="#00bfff" d="M304 569h3v2h-3z"/>
<path fill="#008000" d="M307 569h4v2h-4z"/>
<path fill="#00bfff" d="M307 571h4v1.5h-4z"/>
<path fill="#008000" d="M311 571h4v1.5h-4z"/>
<path fill="#00bfff" d="M252 571h4v1.5h-4z"/>
<path fill="#00ffff" d="M256 571h4v1.5h-4z"/>
<path fill="#ff0000" d="M265 571h4v5.5h-4zM273 571h4v5h-4z"/>
<path fill="#00bfff" d="M277 571h3v4h-3z"/>
<path fill="#ff0000" d="M250 572.5h10v15.5h-10zM260 575h5v13h-5z"/>
<path fill="#00ffff" d="M252 576h4v2h-4z"/>
<path fill="#00bfff" d="M260 578h5v2h-5z"/>
<path fill="#00ffff" d="M256 582h4v3.5h-4z"/>
<path fill="#00bfff" d="M260 584h5v4h-5z"/>
<path fill="#ffb6c1" d="M269 576h4v2h-4z"/>
<path fill="#3c3cff" d="M273 576h4v2h-4z"/>
<path fill="#ff0000" d="M269 578h4v2h-4zM265 580h4v4h-4z"/>
<path fill="#008000" d="M301 572.5h10v5.5h-10zM297 578h10v2h-10z"/>
<path fill="#00bfff" d="M297 576h4v2h-4z"/>
<path fill="#008000" d="M294 580h3v2h-3zM291 582h3v2h-3z"/>
<path fill="#00bfff" d="M294 582h3v2h-3zM291 584h3v2h-3z"/>
<path fill="#008000" d="M294 584h3v2h-3zM291 586h3v2h-3z"/>
<path fill="#00bfff" d="M294 586h3v2h-3z"/>
<path fill="#008000" d="M304 584h3v2h-3z"/>
<path fill="#00bfff" d="M304 586h3v2h-3z"/>
<path fill="#3c3cff" d="M269 586h4v2h-4z"/>
<path fill="#00bfff" d="M250 586h2v2h-2z"/>
<path fill="#008000" d="M328 517h7v13h-7z"/>
<path fill="#00bfff" d="M365 530h4v2h-4z"/>
<path fill="#00ffff" d="M383 528h4v2h-4z"/>
<path fill="#3c3cff" d="M379 532h4v2h-4z"/>
<path fill="#00ffff" d="M383 534h4v2h-4zM387 537h5v2h-5zM383 539h4v2h-4z"/>
<path fill="#00bfff" d="M328 537h7v2h-7zM324 541h4v2h-4z"/>
<path fill="#008000" d="M324 543h4v2h-4z"/>
<path fill="#ffd700" d="M392 543h5v4h-5z"/>
<path fill="#00ffff" d="M350 545.5h6v1.5h-6zM343 550h7v4h-7zM335 552h8v2h-8z"/>
<path fill="#3c3cff" d="M376 550h7v1.5h-7zM379 551.5h4v2.5h-4zM376 562h3v1h-3z"/>
<path fill="#ba55d3" d="M376 563h3v2h-3z"/>
<path fill="#3c3cff" d="M350 569h11v2h-11zM350 571h6v1.5h-6z"/>
<path fill="#00bfff" d="M373 569h3v2h-3z"/>
<path fill="#3c3cff" d="M379 569h4v3.5h-4zM373 571h6v5h-6zM392 569h5v2h-5z"/>
<path fill="#ba55d3" d="M392 571h5v2h-5z"/>
<path fill="#3c3cff" d="M392 573h5v2h-5z"/>
<path fill="#ba55d3" d="M383 573h9v2h-9zM383 575h4v3h-4zM373 576h3v2h-3z"/>
<path fill="#00bfff" d="M328 573h7v2h-7z"/>
<path fill="#ff0000" d="M343 575h7v1h-7z"/>
<path fill="#3c3cff" d="M356 575h5v1.5h-5zM350 576.5h11v3.5h-11z"/>
<path fill="#ba55d3" d="M369 578h4v4h-4z"/>
<path fill="#008000" d="M324 580h4v2h-4z"/>
<path fill="#ba55d3" d="M365 582h4v6h-4zM376 582h3v2h-3zM373 584h10v2h-10zM373 586h3v2h-3z"/>
<path fill="#3c3cff" d="M350 586h6v2h-6zM369 586h4v2h-4z"/>
<path fill="#ba55d3" d="M365 584h4v4h-4z"/>
<path fill="#3c3cff" d="M365 588h4v1h-4zM369 586h4v2h-4z"/>
<path fill="#ba55d3" d="M373 584h10v2h-10zM373 586h3v2h-3z"/>
<path fill="#3c3cff" d="M373 588h3v1h-3z"/>
<path fill="#ba55d3" d="M373 589h6v2h-6zM373 591h3v2h-3z"/>
<path fill="#3c3cff" d="M373 593h3v2h-3zM383 588h4v5h-4zM343 588h7v1h-7zM350 586h6v5h-6zM356 588h5v5h-5z"/>
<path fill="#00ffff" d="M361 589h4v2h-4z"/>
<path fill="#00bfff" d="M324 593h4v2h-4zM328 602h7v2h-7z"/>
<path fill="#3c3cff" d="M402 539h5v2h-5z"/>
<path fill="#ba55d3" d="M402 541h5v2h-5z"/>
<path fill="#00bfff" d="M407 541h5v2h-5z"/>
<path fill="#ffb6c1" d="M407 547h5v2h-5z"/>
<path fill="#3c3cff" d="M402 550h5v2h-5z"/>
<path fill="#ba55d3" d="M402 563h5v4h-5zM402 573h5v2h-5z"/>
<path fill="#008000" d="M402 576h5v4h-5z"/>
<path fill="#ba55d3" d="M407 576h5v2h-5z"/>
<path fill="#3c3cff" d="M407 578h5v2h-5z"/>
<path fill="#ffb6c1" d="M196 617h3v4h-3z"/>
<path fill="#ff0000" d="M248 584h8v2h-8z"/>
<path fill="#00ffff" d="M256 584h4v2h-4z"/>
<path fill="#00bfff" d="M248 586h4v2h-4z"/>
<path fill="#ff0000" d="M248 588h8v2h-8zM252 590h8v3h-8z"/>
<path fill="#00bfff" d="M244 593h4v2h-4z"/>
<path fill="#ff0000" d="M244 595h4v2h-4z"/>
<path fill="#00bfff" d="M248 595h8v2h-8zM248 597h4v2h-4z"/>
<path fill="#ff0000" d="M244 599h8v2h-8z"/>
<path fill="#00bfff" d="M252 599h4v2h-4z"/>
<path fill="#00ffff" d="M252 601h4v1h-4z"/>
<path fill="#ba55d3" d="M248 602h4v2h-4z"/>
<path fill="#ff0000" d="M252 602h4v4h-4zM244 604h8v2h-8z"/>
<path fill="#00bfff" d="M244 606h4v2h-4z"/>
<path fill="#ff0000" d="M248 606h4v2h-4z"/>
<path fill="#00bfff" d="M252 606h4v2h-4zM256 601h4v1h-4zM256 604h4v2h-4z"/>
<path fill="#ff0000" d="M244 608h4v2h-4z"/>
<path fill="#00bfff" d="M238 610h6v2h-6z"/>
<path fill="#3c3cff" d="M244 610h4v2h-4z"/>
<path fill="#00bfff" d="M248 610h4v2h-4z"/>
<path fill="#00ffff" d="M256 608h4v4h-4z"/>
<path fill="#00bfff" d="M256 612h4v2h-4z"/>
<path fill="#ff0000" d="M244 612h8v3h-8zM244 615h4v6h-4zM248 617h8v2h-8zM252 615h4v6h-4z"/>
<path fill="#00bfff" d="M238 615h6v2h-6zM232 619h6v2h-6z"/>
<path fill="#ba55d3" d="M238 619h6v2h-6z"/>
<path fill="#ff0000" d="M232 621h12v2h-12z"/>
<path fill="#00bfff" d="M232 623h16v2h-16z"/>
<path fill="#00ffff" d="M252 621h8v6h-8z"/>
<path fill="#ff0000" d="M238 625h10v2h-10z"/>
<path fill="#00bfff" d="M248 625h4v2h-4zM232 627h6v1h-6z"/>
<path fill="#ff0000" d="M226 627h5v3h-5zM231 628h7v8h-7zM238 627h6v5h-6z"/>
<path fill="#00bfff" d="M244 627h8v3h-8z"/>
<path fill="#ff0000" d="M252 628h4v2h-4z"/>
<path fill="#00bfff" d="M256 628h4v3h-4z"/>
<path fill="#ff0000" d="M222 630h4v2h-4zM217 632h5v2h-5zM199 630h4v2h-4z"/>
<path fill="#00bfff" d="M199 634h4v2h-4z"/>
<path fill="#ff0000" d="M222 634h9v2h-9z"/>
<path fill="#00bfff" d="M238 632h6v2h-6z"/>
<path fill="#ff0000" d="M238 634h6v9h-6z"/>
<path fill="#00bfff" d="M248 630h8v6h-8z"/>
<path fill="#00ffff" d="M248 632h4v2h-4zM248 636h8v6h-8z"/>
<path fill="#ff0000" d="M256 636h4v2h-4zM199 636h4v2h-4z"/>
<path fill="#00bfff" d="M203 636h5v2h-5z"/>
<path fill="#ff0000" d="M212 636h5v2h-5z"/>
<path fill="#00ffff" d="M226 636h5v2h-5z"/>
<path fill="#00bfff" d="M226 638h5v2h-5zM232 636h6v2h-6z"/>
<path fill="#ff0000" d="M232 638h6v5h-6zM203 638h5v5h-5z"/>
<path fill="#00bfff" d="M212 640h5v1h-5z"/>
<path fill="#ba55d3" d="M212 641h5v2h-5zM193 641h3v2h-3z"/>
<path fill="#ff0000" d="M199 641h4v10h-4zM217 640h5v3h-5zM222 641h4v2h-4zM226 640h5v5h-5z"/>
<path fill="#00bfff" d="M238 641h6v2h-6z"/>
<path fill="#00ffff" d="M244 640h4v3h-4z"/>
<path fill="#00bfff" d="M252 640h8v3h-8z"/>
<path fill="#ff0000" d="M196 643h3v2h-3z"/>
<path fill="#00ffff" d="M203 643h5v2h-5z"/>
<path fill="#00bfff" d="M212 643h5v2h-5z"/>
<path fill="#00ffff" d="M212 645h5v2h-5z"/>
<path fill="#ffb6c1" d="M217 645h5v2h-5z"/>
<path fill="#00bfff" d="M222 643h4v4h-4z"/>
<path fill="#00ffff" d="M226 645h5v7h-5z"/>
<path fill="#00bfff" d="M232 643h6v5h-6z"/>
<path fill="#ff0000" d="M232 647h6v5h-6z"/>
<path fill="#00ffff" d="M238 643h6v2h-6z"/>
<path fill="#00bfff" d="M244 643h4v2h-4z"/>
<path fill="#ffb6c1" d="M248 643h4v2h-4z"/>
<path fill="#ff0000" d="M252 643h4v2h-4z"/>
<path fill="#ffb6c1" d="M256 643h4v2h-4z"/>
<path fill="#ff0000" d="M238 645h6v11h-6z"/>
<path fill="#00ffff" d="M238 647h10v2h-10z"/>
<path fill="#ff0000" d="M244 645h4v2h-4z"/>
<path fill="#00bfff" d="M248 645h4v2h-4z"/>
<path fill="#ff0000" d="M208 645h4v2h-4z"/>
<path fill="#ffb6c1" d="M196 647h3v2h-3zM203 647h5v2h-5z"/>
<path fill="#ff0000" d="M208 647h4v6.5h-4zM212 647h5v2h-5z"/>
<path fill="#00ffff" d="M217 647h5v6h-5z"/>
<path fill="#ffb6c1" d="M222 647h4v2h-4z"/>
<path fill="#ff0000" d="M222 649h4v7h-4z"/>
<path fill="#00bfff" d="M203 649h5v4h-5z"/>
<path fill="#00ffff" d="M212 649h5v2h-5z"/>
<path fill="#00bfff" d="M212 651h5v2h-5z"/>
<path fill="#ff0000" d="M196 649h3v4h-3z"/>
<path fill="#3c3cff" d="M191 651h2v2h-2z"/>
<path fill="#00bfff" d="M226 651h5v2.5h-5zM232 651h6v5h-6z"/>
<path fill="#ff0000" d="M244 649h8v2h-8zM252 647h4v2h-4z"/>
<path fill="#00bfff" d="M256 649h4v2h-4zM248 649h4v4.5h-4z"/>
<path fill="#ff0000" d="M244 651h4v2.5h-4zM252 651h4v2.5h-4zM193 653h38v3h-38zM193 654h59v2h-59zM252 651h4v3h-4z"/>
<path fill="#00bfff" d="M232 651h6v5h-6zM208 653h4v1h-4zM199 656h9v2h-9z"/>
<path fill="#ff0000" d="M193 656h3v2h-3zM208 656h18v2h-18z"/>
<path fill="#00ffff" d="M226 656h5v2h-5z"/>
<path fill="#ff0000" d="M232 656h12v2h-12z"/>
<path fill="#00ffff" d="M244 656h4v2h-4z"/>
<path fill="#ff0000" d="M248 656h4v2h-4z"/>
<path fill="#3c3cff" d="M191 658h2v2h-2z"/>
<path fill="#ffd700" d="M199 658h4v2h-4z"/>
<path fill="#00bfff" d="M203 658h9v2h-9z"/>
<path fill="#ff0000" d="M212 658h32v2h-32zM248 658h8v2h-8z"/>
<path fill="#00bfff" d="M191 660h5v2h-5z"/>
<path fill="#ff0000" d="M199 660h9v2h-9z"/>
<path fill="#00bfff" d="M208 660h9v2h-9z"/>
<path fill="#ff0000" d="M217 660h31v2h-31z"/>
<path fill="#ffb6c1" d="M248 660h4v2h-4z"/>
<path fill="#ff0000" d="M252 660h4v4h-4zM191 662h5v5h-5z"/>
<path fill="#00bfff" d="M199 662h9v2h-9z"/>
<path fill="#ff0000" d="M208 662h40v2h-40z"/>
<path fill="#ba55d3" d="M248 662h4v2h-4z"/>
<path fill="#ff0000" d="M203 664h23v3h-23z"/>
<path fill="#00bfff" d="M226 664h6v2h-6z"/>
<path fill="#ff0000" d="M226 666h6v3h-6zM232 664h20v5h-20z"/>
<path fill="#00bfff" d="M196 666h3v1h-3z"/>
<path fill="#3c3cff" d="M244 666h4v1h-4zM252 666h4v1h-4z"/>
<path fill="#00bfff" d="M217 666h5v1h-5z"/>
<path fill="#ffb6c1" d="M193 667h3v2h-3z"/>
<path fill="#ff0000" d="M196 667h3v2h-3zM203 667h9v2h-9z"/>
<path fill="#00bfff" d="M212 667h5v2h-5z"/>
<path fill="#ff0000" d="M217 667h5v2h-5z"/>
<path fill="#00ffff" d="M232 667h6v2h-6z"/>
<path fill="#ff0000" d="M191 669h2v7h-2z"/>
<path fill="#ffb6c1" d="M193 669.5h3v1.5h-3z"/>
<path fill="#ff0000" d="M203 670h5v1h-5z"/>
<path fill="#00bfff" d="M212 670h5v1h-5z"/>
<path fill="#ff0000" d="M217 669h14v4h-14zM231 669h17v8.5h-17z"/>
<path fill="#00bfff" d="M232 671h6v2h-6z"/>
<path fill="#ff0000" d="M208 671h4v2h-4z"/>
<path fill="#00bfff" d="M196 673h3v2h-3z"/>
<path fill="#ff0000" d="M222 673h9v2h-9z"/>
<path fill="#ba55d3" d="M244 673h4v2h-4z"/>
<path fill="#00bfff" d="M193 675h3v2h-3z"/>
<path fill="#ff0000" d="M222 675h4v5h-4z"/>
<path fill="#ffb6c1" d="M226 675h6v2h-6z"/>
<path fill="#ff0000" d="M187 677h4v2h-4z"/>
<path fill="#00bfff" d="M191 677h2v2h-2z"/>
<path fill="#ff0000" d="M193 677h3v2h-3zM238 677.5h6v2.5h-6zM191 679h5v3h-5zM217 682h5v2h-5z"/>
<path fill="#00bfff" d="M238 682h6v2h-6zM226 686h6v2h-6zM191 682h2v6h-2z"/>
<path fill="#ffb6c1" d="M193 682h3v2h-3z"/>
<path fill="#ff0000" d="M193 684h3v11h-3z"/>
<path fill="#ffb6c1" d="M196 684h3v4h-3z"/>
<path fill="#ff0000" d="M199 686h4v15h-4zM191 688h2v2h-2z"/>
<path fill="#00ffff" d="M187 690h4v2h-4z"/>
<path fill="#ff0000" d="M187 692h4v1h-4z"/>
<path fill="#ffb6c1" d="M191 693h2v2h-2z"/>
<path fill="#00bfff" d="M196 692h3v3h-3zM187 693h4v5.5h-4z"/>
<path fill="#00ffff" d="M191 695h2v2h-2z"/>
<path fill="#ff0000" d="M196 695h3v2h-3z"/>
<path fill="#00bfff" d="M203 695h5v2h-5z"/>
<path fill="#00ffff" d="M184 697h3v1.5h-3z"/>
<path fill="#ff0000" d="M193 697h3v1.5h-3zM203 697h5v4h-5z"/>
<path fill="#00bfff" d="M184 698.5h3v2.5h-3z"/>
<path fill="#00ffff" d="M187 698.5h4v2.5h-4z"/>
<path fill="#00bfff" d="M191 698.5h2v2.5h-2z"/>
<path fill="#ff0000" d="M184 701h7v5h-7zM184 706h3v2h-3z"/>
<path fill="#ffb6c1" d="M187 706h4v2h-4z"/>
<path fill="#3c3cff" d="M180 703h4v2h-4z"/>
<path fill="#ffb6c1" d="M180 705h4v1h-4z"/>
<path fill="#3c3cff" d="M180 706h4v4h-4z"/>
<path fill="#00bfff" d="M184 708h3v2h-3z"/>
<path fill="#ff0000" d="M180 710h4v2h-4z"/>
<path fill="#ba55d3" d="M180 712h4v2h-4z"/>
<path fill="#00ffff" d="M180 721h4v1h-4z"/>
<path fill="#ffd700" d="M191 721h2v1h-2z"/>
<path fill="#3c3cff" d="M269 586h4v2h-4z"/>
<path fill="#ff0000" d="M269 589h4v2h-4z"/>
<path fill="#00bfff" d="M269 591h4v2h-4z"/>
<path fill="#00ffff" d="M265 589h4v2h-4z"/>
<path fill="#008000" d="M291 586h3v2h-3z"/>
<path fill="#00bfff" d="M294 586h3v2h-3zM304 586h3v2h-3zM287 588h4v1h-4z"/>
<path fill="#008000" d="M287 589h7v2h-7z"/>
<path fill="#00bfff" d="M287 591h4v2h-4z"/>
<path fill="#008000" d="M287 593h4v4h-4z"/>
<path fill="#ff0000" d="M287 597h4v2h-4z"/>
<path fill="#00bfff" d="M287 599h4v5h-4z"/>
<path fill="#00ffff" d="M265 597h4v2h-4zM277 597h3v2h-3zM297 597h4v2h-4z"/>
<path fill="#00bfff" d="M297 601h4v1h-4zM260 599h5v2h-5z"/>
<path fill="#ff0000" d="M260 602h5v4h-5z"/>
<path fill="#00bfff" d="M269 602h4v4h-4z"/>
<path fill="#ff0000" d="M269 606h4v2h-4z"/>
<path fill="#00bfff" d="M269 608h4v2h-4z"/>
<path fill="#008000" d="M284 606h3v2h-3zM291 606h3v2h-3z"/>
<path fill="#00bfff" d="M291 608h3v2h-3z"/>
<path fill="#00ffff" d="M297 606h4v2h-4z"/>
<path fill="#00bfff" d="M297 608h4v2h-4zM301 604h3v4h-3zM307 602h4v4h-4zM311 608h4v4h-4zM260 612h5v7h-5z"/>
<path fill="#00ffff" d="M260 619h5v4h-5z"/>
<path fill="#00bfff" d="M260 623h5v2h-5zM269 614h4v1h-4z"/>
<path fill="#00ffff" d="M269 615h4v2h-4z"/>
<path fill="#008000" d="M277 614h3v1h-3z"/>
<path fill="#00ffff" d="M287 614h4v1h-4z"/>
<path fill="#00bfff" d="M311 614h4v1h-4zM307 615h4v2h-4z"/>
<path fill="#00ffff" d="M301 615h3v6h-3z"/>
<path fill="#00bfff" d="M297 619h4v2h-4z"/>
<path fill="#00ffff" d="M294 617h3v6h-3z"/>
<path fill="#ffb6c1" d="M280 617h4v2h-4z"/>
<path fill="#008000" d="M280 619h4v2h-4zM277 621h3v2h-3z"/>
<path fill="#00ffff" d="M284 621h3v2h-3z"/>
<path fill="#00bfff" d="M284 623h3v2h-3z"/>
<path fill="#008000" d="M269 627h4v5h-4z"/>
<path fill="#00ffff" d="M277 628h3v2h-3z"/>
<path fill="#00bfff" d="M291 628h3v2h-3z"/>
<path fill="#00ffff" d="M287 630h4v2h-4z"/>
<path fill="#00bfff" d="M287 632h4v2h-4z"/>
<path fill="#ff0000" d="M260 638h5v2h-5z"/>
<path fill="#008000" d="M273 640h4v1h-4zM269 649h4v4h-4z"/>
<path fill="#ffffff" d="M250 584h10v72h-10z"/>
<path fill="#ff0000" d="M250 584h6v2h-6z"/>
<path fill="#00ffff" d="M256 584h4v2h-4z"/>
<path fill="#00bfff" d="M250 586h2v2h-2z"/>
<path fill="#ff0000" d="M250 588h6v3h-6zM252 589h8v4h-8z"/>
<path fill="#00bfff" d="M250 595h6v2h-6zM250 597h2v2h-2z"/>
<path fill="#ff0000" d="M250 599h2v2h-2z"/>
<path fill="#00bfff" d="M252 599h4v2h-4z"/>
<path fill="#00ffff" d="M252 601h8v1h-8z"/>
<path fill="#ba55d3" d="M250 602h2v2h-2z"/>
<path fill="#ff0000" d="M252 602h4v4h-4z"/>
<path fill="#00bfff" d="M256 604h4v2h-4z"/>
<path fill="#ff0000" d="M250 604h2v4h-2z"/>
<path fill="#00bfff" d="M252 606h4v2h-4z"/>
<path fill="#00ffff" d="M256 608h4v4h-4z"/>
<path fill="#00bfff" d="M250 610h2v2h-2z"/>
<path fill="#ff0000" d="M250 612h2v3h-2z"/>
<path fill="#00bfff" d="M256 612h4v2h-4z"/>
<path fill="#ff0000" d="M252 615h4v6h-4zM250 617h2v2h-2z"/>
<path fill="#00ffff" d="M252 621h8v6h-8z"/>
<path fill="#00bfff" d="M250 625h2v2h-2zM250 628h10v4.5h-10z"/>
<path fill="#ff0000" d="M256 627h4v1h-4zM252 628h4v2h-4z"/>
<path fill="#00bfff" d="M250 632.5h6v3.5h-6z"/>
<path fill="#00ffff" d="M250 632h2v2h-2zM250 636h6v6h-6z"/>
<path fill="#00bfff" d="M256 636h4v2h-4z"/>
<path fill="#ff0000" d="M256 638h4v2h-4z"/>
<path fill="#00bfff" d="M252 640h8v3h-8z"/>
<path fill="#ffb6c1" d="M250 643h2v2h-2z"/>
<path fill="#ff0000" d="M252 643h4v2h-4z"/>
<path fill="#ffb6c1" d="M256 643h4v2h-4z"/>
<path fill="#00bfff" d="M250 645h2v2h-2z"/>
<path fill="#ff0000" d="M252 647h4v2h-4z"/>
<path fill="#00bfff" d="M250 649h2v4.5h-2z"/>
<path fill="#00ffff" d="M252 649h4v2h-4z"/>
<path fill="#00bfff" d="M256 649h4v2h-4z"/>
<path fill="#ff0000" d="M252 651h4v2.5h-4zM250 653.5h2v2.5h-2z"/>
<path fill="#008000" d="M287 660h4v4h-4zM284 662h3v4h-3zM280 664h4v2h-4z"/>
<path fill="#00ffff" d="M116 690h3v3h-3z"/>
<path fill="#ffb6c1" d="M116 701h3v4h-3z"/>
<path fill="#00ffff" d="M116 708h3v2h-3z"/>
<path fill="#008000" d="M116 710h3v2h-3z"/>
<path fill="#3c3cff" d="M116 712h3v2h-3z"/>
<path fill="#ff0000" d="M116 714h3v2h-3z"/>
<path fill="#008000" d="M116 716h3v2h-3z"/>
<path fill="#00ffff" d="M116 718h3v1h-3z"/>
<path fill="#ff0000" d="M116 719h3v2h-3z"/>
<path fill="#ffd700" d="M116 721h3v4h-3z"/>
<path fill="#00bfff" d="M116 725h3v2h-3z"/>
<path fill="#ffb6c1" d="M116 727h3v2h-3z"/>
<path fill="#00ffff" d="M116 729h3v3h-3z"/>
<path fill="#ffd700" d="M116 732h3v6h-3z"/>
<path fill="#00bfff" d="M119 719h3v2h-3z"/>
<path fill="#00ffff" d="M119 721h3v2h-3z"/>
<path fill="#ffd700" d="M119 725h3v6h-3z"/>
<path fill="#00ffff" d="M119 731h3v1h-3z"/>
<path fill="#3c3cff" d="M112 727h4v2h-4z"/>
<path fill="#ff0000" d="M112 729h4v2h-4z"/>
<path fill="#ffb6c1" d="M112 731h4v1h-4z"/>
<path fill="#ff0000" d="M112 732h4v2h-4z"/>
<path fill="#00bfff" d="M112 734h4v2h-4z"/>
<path fill="#ba55d3" d="M122 725h2v2h-2z"/>
<path fill="#ffb6c1" d="M122 727h2v2h-2z"/>
<path fill="#ff0000" d="M122 729h2v3h-2z"/>
<path fill="#ffb6c1" d="M122 732h2v4h-2z"/>
<path fill="#00ffff" d="M122 736h2v2h-2z"/>
<path fill="#ff0000" d="M124 725h2v4h-2z"/>
<path fill="#ffd700" d="M124 729h2v2h-2z"/>
<path fill="#ba55d3" d="M126 725h2v2h-2z"/>
<path fill="#ff0000" d="M126 729h2v2h-2zM128 725h3v2h-3z"/>
<path fill="#ffb6c1" d="M128 727h3v5h-3z"/>
<path fill="#ffd700" d="M131 725h3v2h-3z"/>
<path fill="#00ffff" d="M131 727h3v4h-3z"/>
<path fill="#ff0000" d="M131 731h3v1h-3z"/>
<path fill="#ffd700" d="M134 718h3v1h-3z"/>
<path fill="#ffb6c1" d="M134 721h3v4h-3z"/>
<path fill="#ff0000" d="M134 725h3v2h-3z"/>
<path fill="#00bfff" d="M134 727h3v2h-3z"/>
<path fill="#ffb6c1" d="M134 729h3v2h-3z"/>
<path fill="#00ffff" d="M134 731h3v1h-3z"/>
<path fill="#00bfff" d="M137 719h3v2h-3z"/>
<path fill="#ff0000" d="M137 721h3v11h-3z"/>
<path fill="#ffd700" d="M138 725h2v2h-2z"/>
<path fill="#00bfff" d="M137 736h3v2h-3zM140 721h3v2h-3z"/>
<path fill="#ff0000" d="M140 723h3v8h-3z"/>
<path fill="#ba55d3" d="M143 718h3v1h-3z"/>
<path fill="#ffb6c1" d="M143 719h3v4h-3z"/>
<path fill="#00bfff" d="M143 723h3v8h-3z"/>
<path fill="#3c3cff" d="M146 716h4v2h-4z"/>
<path fill="#00bfff" d="M146 719h4v4h-4z"/>
<path fill="#ba55d3" d="M146 723h4v2h-4z"/>
<path fill="#00ffff" d="M146 725h4v2h-4z"/>
<path fill="#ff0000" d="M146 727h4v2h-4z"/>
<path fill="#ffb6c1" d="M146 729h4v2h-4z"/>
<path fill="#ffd700" d="M150 712h4v2h-4z"/>
<path fill="#00ffff" d="M150 714h4v2h-4z"/>
<path fill="#ff0000" d="M150 716h4v3h-4z"/>
<path fill="#ffb6c1" d="M150 719h4v2h-4z"/>
<path fill="#ff0000" d="M150 721h4v4h-4z"/>
<path fill="#ffb6c1" d="M150 725h4v2h-4z"/>
<path fill="#00ffff" d="M150 727h4v2h-4z"/>
<path fill="#ffd700" d="M150 729h4v2h-4z"/>
<path fill="#ba55d3" d="M150 736h4v2h-4z"/>
<path fill="#00bfff" d="M154 710h3v2h-3z"/>
<path fill="#ffb6c1" d="M154 712h3v2h-3z"/>
<path fill="#ff0000" d="M154 714h3v2h-3z"/>
<path fill="#00ffff" d="M154 721h3v4h-3z"/>
<path fill="#ffb6c1" d="M154 725h3v4h-3z"/>
<path fill="#00ffff" d="M157 701h4v4h-4z"/>
<path fill="#ff0000" d="M157 708h4v4h-4z"/>
<path fill="#ffb6c1" d="M157 712h4v2h-4z"/>
<path fill="#ffd700" d="M157 719h4v2h-4z"/>
<path fill="#ff0000" d="M157 721h4v4h-4z"/>
<path fill="#ffb6c1" d="M157 725h4v2h-4zM161 716h3v2h-3z"/>
<path fill="#ff0000" d="M161 718h3v1h-3z"/>
<path fill="#00bfff" d="M161 719h3v4h-3z"/>
<path fill="#ff0000" d="M161 723h3v2h-3z"/>
<path fill="#ffb6c1" d="M161 725h3v6h-3z"/>
<path fill="#ff0000" d="M164 716h3v2h-3z"/>
<path fill="#00bfff" d="M164 719h3v4h-3z"/>
<path fill="#00ffff" d="M167 712h2v2h-2z"/>
<path fill="#ff0000" d="M167 714h2v2h-2z"/>
<path fill="#00bfff" d="M167 716h2v2h-2z"/>
<path fill="#ff0000" d="M167 719h2v4h-2z"/>
<path fill="#ffb6c1" d="M167 723h2v2h-2z"/>
<path fill="#00ffff" d="M169 710h3v2h-3z"/>
<path fill="#ffb6c1" d="M169 712h3v2h-3z"/>
<path fill="#00ffff" d="M169 714h3v2h-3z"/>
<path fill="#ff0000" d="M169 716h3v5h-3z"/>
<path fill="#00bfff" d="M169 721h3v2h-3z"/>
<path fill="#ff0000" d="M169 723h3v2h-3z"/>
<path fill="#00bfff" d="M172 708h2v4h-2z"/>
<path fill="#ff0000" d="M172 712h2v2h-2z"/>
<path fill="#00bfff" d="M172 714h2v2h-2z"/>
<path fill="#ff0000" d="M172 716h2v3h-2z"/>
<path fill="#3c3cff" d="M172 719h2v2h-2z"/>
<path fill="#ffb6c1" d="M172 721h2v2h-2z"/>
<path fill="#00bfff" d="M174 706h3v4h-3z"/>
<path fill="#ff0000" d="M174 710h3v4h-3z"/>
<path fill="#3c3cff" d="M174 714h3v2h-3z"/>
<path fill="#00bfff" d="M174 718h3v3h-3zM177 708h3v2h-3z"/>
<path fill="#ff0000" d="M177 710h3v4h-3z"/>
<path fill="#3c3cff" d="M177 714h3v2h-3z"/>
<path fill="#ff0000" d="M177 716h3v3h-3z"/>
<path fill="#3c3cff" d="M180 703h4v2h-4z"/>
<path fill="#ffb6c1" d="M180 705h4v1h-4z"/>
<path fill="#3c3cff" d="M180 706h4v4h-4z"/>
<path fill="#ff0000" d="M180 710h4v2h-4z"/>
<path fill="#ba55d3" d="M180 712h4v2h-4z"/>
<path fill="#00ffff" d="M180 721h4v2h-4z"/>
<path fill="#008000" d="M180 725h4v2h-4z"/>
<path fill="#ba55d3" d="M180 727h4v2h-4z"/>
<path fill="#ffb6c1" d="M180 732h4v2h-4z"/>
<path fill="#ff0000" d="M116 671h3v2h-3z"/>
<path fill="#ffb6c1" d="M157 686h4v2h-4z"/>
<path fill="#00bfff" d="M244 556h4v2h-4z"/>
<path fill="#ff0000" d="M248 554h4v4h-4zM248 575h4v7h-4z"/>
<path fill="#ffffff" d="M248 582h4v2h-4z"/>
<path fill="#ff0000" d="M248 584h4v1.5h-4z"/>
<path fill="#00bfff" d="M248 586h4v2h-4z"/>
<path fill="#008000" d="M361 343h4v1h-4z"/>
<path fill="#ff0000" d="M361 356h4v1h-4z"/>
<path fill="#00ffff" d="M369 376h4v2h-4z"/>
<path fill="#ffd700" d="M190.5 721h2v4h-2z"/>
<path fill="#00bfff" d="M192.5 732h3.5v3.5h-3.5z"/>
<path fill="#3c3cff" d="M192.5 735.5h3.5v2h-3.5z"/>
</g>
<g class="gr"><line x1="138.5" y1="100.5" x2="138.5" y2="793.5"/><line x1="230.5" y1="100.5" x2="230.5" y2="793.5"/><line x1="323.5" y1="100.5" x2="323.5" y2="793.5"/><line x1="415.5" y1="100.5" x2="415.5" y2="793.5"/><line x1="508.5" y1="100.5" x2="508.5" y2="793.5"/><line x1="600.5" y1="100.5" x2="600.5" y2="793.5"/><line x1="692.5" y1="100.5" x2="692.5" y2="793.5"/><line x1="92.5" y1="669.5" x2="785.5" y2="669.5"/><line x1="92.5" y1="545.5" x2="785.5" y2="545.5"/><line x1="92.5" y1="421.5" x2="785.5" y2="421.5"/><line x1="92.5" y1="298.5" x2="785.5" y2="298.5"/><line x1="92.5" y1="174.5" x2="785.5" y2="174.5"/></g>
<rect x="92.5" y="100.5" width="693.0" height="693.0" fill="none" stroke="#000" stroke-width="1" shape-rendering="crispEdges"/>
<g class="tk"><line x1="138.5" y1="793.5" x2="138.5" y2="798.5"/><line x1="230.5" y1="793.5" x2="230.5" y2="798.5"/><line x1="323.5" y1="793.5" x2="323.5" y2="798.5"/><line x1="415.5" y1="793.5" x2="415.5" y2="798.5"/><line x1="508.5" y1="793.5" x2="508.5" y2="798.5"/><line x1="600.5" y1="793.5" x2="600.5" y2="798.5"/><line x1="692.5" y1="793.5" x2="692.5" y2="798.5"/><line x1="785.5" y1="793.5" x2="785.5" y2="798.5"/><line x1="92.5" y1="793.5" x2="92.5" y2="796.5"/><line x1="115.5" y1="793.5" x2="115.5" y2="796.5"/><line x1="161.5" y1="793.5" x2="161.5" y2="796.5"/><line x1="184.5" y1="793.5" x2="184.5" y2="796.5"/><line x1="207.5" y1="793.5" x2="207.5" y2="796.5"/><line x1="254.5" y1="793.5" x2="254.5" y2="796.5"/><line x1="277.5" y1="793.5" x2="277.5" y2="796.5"/><line x1="300.5" y1="793.5" x2="300.5" y2="796.5"/><line x1="346.5" y1="793.5" x2="346.5" y2="796.5"/><line x1="369.5" y1="793.5" x2="369.5" y2="796.5"/><line x1="392.5" y1="793.5" x2="392.5" y2="796.5"/><line x1="438.5" y1="793.5" x2="438.5" y2="796.5"/><line x1="461.5" y1="793.5" x2="461.5" y2="796.5"/><line x1="485.5" y1="793.5" x2="485.5" y2="796.5"/><line x1="531.5" y1="793.5" x2="531.5" y2="796.5"/><line x1="554.5" y1="793.5" x2="554.5" y2="796.5"/><line x1="577.5" y1="793.5" x2="577.5" y2="796.5"/><line x1="623.5" y1="793.5" x2="623.5" y2="796.5"/><line x1="646.5" y1="793.5" x2="646.5" y2="796.5"/><line x1="669.5" y1="793.5" x2="669.5" y2="796.5"/><line x1="716.5" y1="793.5" x2="716.5" y2="796.5"/><line x1="739.5" y1="793.5" x2="739.5" y2="796.5"/><line x1="762.5" y1="793.5" x2="762.5" y2="796.5"/><line x1="87.0" y1="793.5" x2="92.5" y2="793.5"/><line x1="87.0" y1="669.5" x2="92.5" y2="669.5"/><line x1="87.0" y1="545.5" x2="92.5" y2="545.5"/><line x1="87.0" y1="421.5" x2="92.5" y2="421.5"/><line x1="87.0" y1="298.5" x2="92.5" y2="298.5"/><line x1="87.0" y1="174.5" x2="92.5" y2="174.5"/><line x1="89.5" y1="762.5" x2="92.5" y2="762.5"/><line x1="89.5" y1="731.5" x2="92.5" y2="731.5"/><line x1="89.5" y1="700.5" x2="92.5" y2="700.5"/><line x1="89.5" y1="638.5" x2="92.5" y2="638.5"/><line x1="89.5" y1="607.5" x2="92.5" y2="607.5"/><line x1="89.5" y1="576.5" x2="92.5" y2="576.5"/><line x1="89.5" y1="514.5" x2="92.5" y2="514.5"/><line x1="89.5" y1="483.5" x2="92.5" y2="483.5"/><line x1="89.5" y1="452.5" x2="92.5" y2="452.5"/><line x1="89.5" y1="390.5" x2="92.5" y2="390.5"/><line x1="89.5" y1="359.5" x2="92.5" y2="359.5"/><line x1="89.5" y1="329.5" x2="92.5" y2="329.5"/><line x1="89.5" y1="267.5" x2="92.5" y2="267.5"/><line x1="89.5" y1="236.5" x2="92.5" y2="236.5"/><line x1="89.5" y1="205.5" x2="92.5" y2="205.5"/><line x1="89.5" y1="143.5" x2="92.5" y2="143.5"/><line x1="89.5" y1="112.5" x2="92.5" y2="112.5"/></g>
<g class="lb"><text x="134.2" y="814.8" textLength="9.4" lengthAdjust="spacingAndGlyphs">2</text><text x="225.5" y="814.8" textLength="10.1" lengthAdjust="spacingAndGlyphs">4</text><text x="318.1" y="814.8" textLength="10.0" lengthAdjust="spacingAndGlyphs">6</text><text x="410.1" y="814.8" textLength="10.0" lengthAdjust="spacingAndGlyphs">8</text><text x="498.4" y="814.8" textLength="19.5" lengthAdjust="spacingAndGlyphs">10</text><text x="590.3" y="814.8" textLength="19.6" lengthAdjust="spacingAndGlyphs">12</text><text x="682.0" y="814.8" textLength="20.1" lengthAdjust="spacingAndGlyphs">14</text><text x="775.4" y="814.8" textLength="19.5" lengthAdjust="spacingAndGlyphs">16</text><text x="71.9" y="799.3" textLength="9.2" lengthAdjust="spacingAndGlyphs">0</text><text x="50.6" y="675.3" textLength="30.5" lengthAdjust="spacingAndGlyphs">200</text><text x="50.5" y="551.3" textLength="30.6" lengthAdjust="spacingAndGlyphs">400</text><text x="50.0" y="427.3" textLength="31.1" lengthAdjust="spacingAndGlyphs">600</text><text x="50.0" y="304.3" textLength="31.1" lengthAdjust="spacingAndGlyphs">800</text><text x="39.7" y="180.3" textLength="41.4" lengthAdjust="spacingAndGlyphs">1000</text></g>
<text x="337.0" y="841.4" font-size="25" textLength="123.1" lengthAdjust="spacingAndGlyphs">Frequency</text><text x="469.0" y="841.4" font-size="25" textLength="69.6" lengthAdjust="spacingAndGlyphs">(MHz)</text>
<g transform="translate(28.8,559.4) rotate(-90)"><text x="0.0" y="0" font-size="25" textLength="77.2" lengthAdjust="spacingAndGlyphs">Virtual</text><text x="85.6" y="0" font-size="25" textLength="75.6" lengthAdjust="spacingAndGlyphs">height</text><text x="169.2" y="0" font-size="25" textLength="54.8" lengthAdjust="spacingAndGlyphs">(km)</text></g>
<rect x="816.5" y="712.0" width="30.0" height="90.0" fill="#008000" shape-rendering="crispEdges"/><rect x="816.5" y="622.0" width="30.0" height="90.0" fill="#ff0000" shape-rendering="crispEdges"/><rect x="816.5" y="532.0" width="30.0" height="90.0" fill="#3c3cff" shape-rendering="crispEdges"/><rect x="816.5" y="442.0" width="30.0" height="90.0" fill="#ba55d3" shape-rendering="crispEdges"/><rect x="816.5" y="352.0" width="30.0" height="90.0" fill="#ffb6c1" shape-rendering="crispEdges"/><rect x="816.5" y="262.0" width="30.0" height="90.0" fill="#ffd700" shape-rendering="crispEdges"/><rect x="816.5" y="172.0" width="30.0" height="90.0" fill="#00ffff" shape-rendering="crispEdges"/><rect x="816.5" y="82.0" width="30.0" height="90.0" fill="#00bfff" shape-rendering="crispEdges"/>
<rect x="816.5" y="82.5" width="30.0" height="720.0" fill="none" stroke="#000" stroke-width="1" shape-rendering="crispEdges"/>
<g class="tk"><line x1="846.5" y1="802.5" x2="849.5" y2="802.5"/><line x1="846.5" y1="712.5" x2="849.5" y2="712.5"/><line x1="846.5" y1="622.5" x2="849.5" y2="622.5"/><line x1="846.5" y1="532.5" x2="849.5" y2="532.5"/><line x1="846.5" y1="442.5" x2="849.5" y2="442.5"/><line x1="846.5" y1="352.5" x2="849.5" y2="352.5"/><line x1="846.5" y1="262.5" x2="849.5" y2="262.5"/><line x1="846.5" y1="172.5" x2="849.5" y2="172.5"/><line x1="846.5" y1="82.5" x2="849.5" y2="82.5"/><line x1="846.5" y1="757.5" x2="851.5" y2="757.5"/><line x1="846.5" y1="667.5" x2="851.5" y2="667.5"/><line x1="846.5" y1="577.5" x2="851.5" y2="577.5"/><line x1="846.5" y1="487.5" x2="851.5" y2="487.5"/><line x1="846.5" y1="397.5" x2="851.5" y2="397.5"/><line x1="846.5" y1="307.5" x2="851.5" y2="307.5"/><line x1="846.5" y1="217.5" x2="851.5" y2="217.5"/><line x1="846.5" y1="127.5" x2="851.5" y2="127.5"/></g>
<g class="lb"><text x="856.1" y="763.1" textLength="63.9" lengthAdjust="spacingAndGlyphs">X-mode</text><text x="856.1" y="673.1" textLength="62.5" lengthAdjust="spacingAndGlyphs">Vertical</text><text x="855.3" y="583.1" textLength="40.2" lengthAdjust="spacingAndGlyphs">NNW</text><text x="856.1" y="493.1" textLength="15.7" lengthAdjust="spacingAndGlyphs">W</text><text x="855.3" y="403.1" textLength="37.5" lengthAdjust="spacingAndGlyphs">SSW</text><text x="855.3" y="313.1" textLength="31.1" lengthAdjust="spacingAndGlyphs">SSE</text><text x="855.3" y="223.1" textLength="9.9" lengthAdjust="spacingAndGlyphs">E</text><text x="855.3" y="133.1" textLength="34.6" lengthAdjust="spacingAndGlyphs">NNE</text></g>
<g transform="translate(944,549.1) rotate(-90)"><text x="-0.5" y="0" font-size="25" textLength="98.7" lengthAdjust="spacingAndGlyphs">Azimuth</text><text x="106.1" y="0" font-size="25" textLength="107.5" lengthAdjust="spacingAndGlyphs">Direction</text></g>
</svg>
</body></html>
